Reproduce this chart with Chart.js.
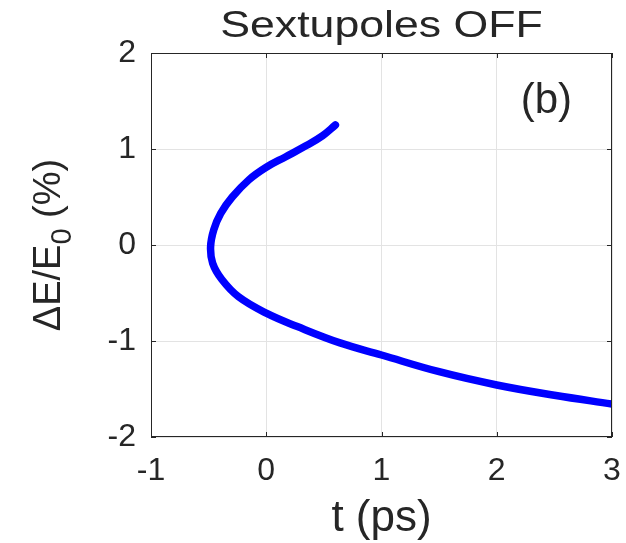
<!DOCTYPE html>
<html>
<head>
<meta charset="utf-8">
<script src="https://cdn.jsdelivr.net/npm/chart.js@4/dist/chart.umd.min.js"></script>
<style>
  html, body { margin: 0; padding: 0; background: #fff; }
  #wrap { width: 626px; height: 543px; }
</style>
</head>
<body>
<div id="wrap"><canvas id="myChart" width="626" height="543"></canvas></div>
<script>
// Données (centre de la bande)
const tPs = [0.6, 0.49, 0.34, 0.17, 0.0, -0.15, -0.295, -0.395, -0.455, -0.483, -0.465, -0.385, -0.24, 0.0, 0.27, 0.64, 1.0, 1.5, 2.0, 2.5, 3.0];
const dE = [1.25, 1.14, 1.03, 0.92, 0.81, 0.68, 0.50, 0.33, 0.16, -0.02, -0.19, -0.36, -0.54, -0.71, -0.85, -1.02, -1.146, -1.32, -1.458, -1.565, -1.656];
const xTicks = [-1, 0, 1, 2, 3];
const yTicks = [-2, -1, 0, 1, 2];
const titleText = "Sextupoles OFF";
const xTitle = "t (ps)";
const panelLabel = "(b)";

const FONT = '"Liberation Sans", Arial, Helvetica, sans-serif';
const INK = "#262626";

const points = tPs.map((t, i) => ({ x: t, y: dE[i] }));

// Textes, cadre et graduations façon MATLAB
const matlabPlugin = {
  id: "matlab",
  afterDraw(chart) {
    const { ctx, chartArea: a, scales } = chart;
    ctx.save();
    ctx.strokeStyle = INK;
    ctx.lineWidth = 1;
    ctx.strokeRect(a.left + 0.5, a.top + 0.5, a.right - a.left - 1, a.bottom - a.top - 1);
    ctx.beginPath();
    xTicks.forEach(v => {
      const px = Math.round(scales.x.getPixelForValue(v)) + 0.5;
      ctx.moveTo(px, a.bottom); ctx.lineTo(px, a.bottom - 5);
      ctx.moveTo(px, a.top); ctx.lineTo(px, a.top + 5);
    });
    yTicks.forEach(v => {
      const py = Math.round(scales.y.getPixelForValue(v)) + 0.5;
      ctx.moveTo(a.left, py); ctx.lineTo(a.left + 5, py);
      ctx.moveTo(a.right, py); ctx.lineTo(a.right - 5, py);
    });
    ctx.stroke();

    ctx.fillStyle = INK;
    ctx.textBaseline = "alphabetic";

    // titre (légèrement étiré comme sur la figure)
    ctx.save();
    ctx.font = "36px " + FONT;
    ctx.textAlign = "center";
    ctx.translate((a.left + a.right) / 2, 37);
    ctx.scale(1.24, 1);
    ctx.fillText(titleText, 0, 0);
    ctx.restore();

    // titre de l'axe x
    ctx.font = "44px " + FONT;
    ctx.textAlign = "center";
    ctx.fillText(xTitle, (a.left + a.right) / 2, 531);

    // titre de l'axe y avec indice
    ctx.save();
    ctx.translate(60, (a.top + a.bottom) / 2);
    ctx.rotate(-Math.PI / 2);
    ctx.textAlign = "left";
    ctx.font = "38px " + FONT;
    const w1 = ctx.measureText("\u0394E/E").width;
    const w2 = ctx.measureText(" (%)").width;
    ctx.font = "29px " + FONT;
    const w0 = ctx.measureText("0").width;
    const start = -(w1 + w0 + w2) / 2;
    ctx.font = "38px " + FONT;
    ctx.fillText("\u0394E/E", start, 0);
    ctx.font = "29px " + FONT;
    ctx.fillText("0", start + w1, 11);
    ctx.font = "38px " + FONT;
    ctx.fillText(" (%)", start + w1 + w0, 0);
    ctx.restore();

    // étiquette du panneau
    ctx.font = "42px " + FONT;
    ctx.textAlign = "center";
    ctx.fillText(panelLabel, scales.x.getPixelForValue(2.43), scales.y.getPixelForValue(1.38));
    ctx.restore();
  }
};

const ctx = document.getElementById("myChart").getContext("2d");

const myChart = new Chart(ctx, {
  type: "scatter",
  data: {
    datasets: [{
      data: points,
      showLine: true,
      tension: 0.4,
      borderColor: "#0000ff",
      borderWidth: 7.5,
      borderCapStyle: "round",
      borderJoinStyle: "round",
      pointRadius: 0,
      fill: false,
    }],
  },
  options: {
    responsive: false,
    animation: false,
    layout: { padding: { top: 53, right: 14, left: 0, bottom: 0 } },
    plugins: {
      legend: { display: false },
      tooltip: { enabled: false },
      title: { display: false },
    },
    scales: {
      x: {
        type: "linear",
        min: -1,
        max: 3,
        afterBuildTicks: s => { s.ticks = xTicks.map(v => ({ value: v })); },
        afterFit: s => { s.height = 106; s.paddingLeft = 0; s.paddingRight = 0; },
        grid: { color: "#e3e3e3", lineWidth: 1, drawTicks: false },
        border: { display: false },
        ticks: {
          padding: 15,
          color: INK,
          font: { family: FONT, size: 32 },
          callback: v => String(v),
        },
      },
      y: {
        type: "linear",
        min: -2,
        max: 2,
        afterBuildTicks: s => { s.ticks = yTicks.map(v => ({ value: v })); },
        afterFit: s => { s.width = 151; s.paddingTop = 0; s.paddingBottom = 0; },
        grid: { color: "#e3e3e3", lineWidth: 1, drawTicks: false },
        border: { display: false },
        ticks: {
          padding: 15,
          color: INK,
          font: { family: FONT, size: 32 },
          callback: v => String(v),
        },
      },
    },
  },
  plugins: [matlabPlugin],
});
</script>
</body>
</html>
